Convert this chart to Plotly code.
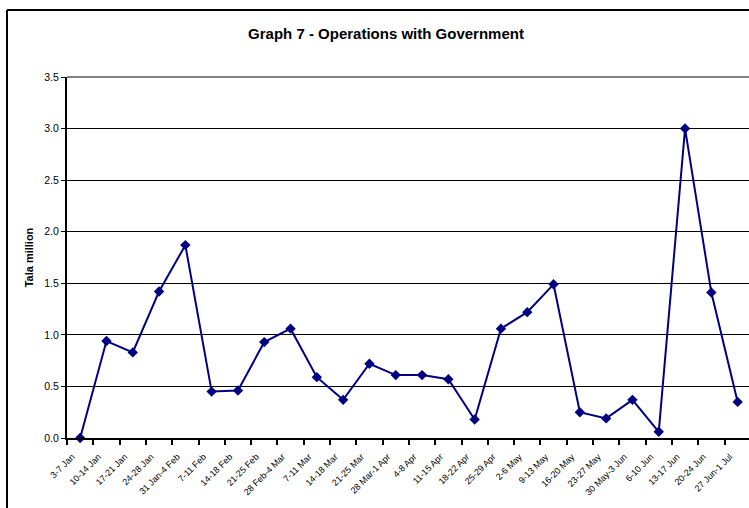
import plotly.graph_objects as go

# Weekly periods (2005, Jan-Jul)
weeks = [
    "3-7 Jan", "10-14 Jan", "17-21 Jan", "24-28 Jan", "31 Jan-4 Feb",
    "7-11 Feb", "14-18 Feb", "21-25 Feb", "28 Feb-4 Mar", "7-11 Mar",
    "14-18 Mar", "21-25 Mar", "28 Mar-1 Apr", "4-8 Apr", "11-15 Apr",
    "18-22 Apr", "25-29 Apr", "2-6 May", "9-13 May", "16-20 May",
    "23-27 May", "30 May-3 Jun", "6-10 Jun", "13-17 Jun", "20-24 Jun",
    "27 Jun-1 Jul",
]

# Net operations with government, Tala million
operations = [
    0.00, 0.94, 0.83, 1.42, 1.87,
    0.45, 0.46, 0.93, 1.06, 0.59,
    0.37, 0.72, 0.61, 0.61, 0.57,
    0.18, 1.06, 1.22, 1.49, 0.25,
    0.19, 0.37, 0.06, 3.00, 1.41,
    0.35,
]

y_ticks = [0.0, 0.5, 1.0, 1.5, 2.0, 2.5, 3.0, 3.5]

W, H = 749, 508
L, R, T, B = 67, 0, 77, 70
plot_w = W - L - R
plot_h = H - T - B
cat_px = 26.3  # width of one category slot

fig = go.Figure()
fig.add_trace(go.Scatter(
    x=list(range(len(weeks))),
    y=operations,
    mode="lines+markers",
    line=dict(color="#000080", width=2),
    marker=dict(symbol="diamond", size=8, color="#000080"),
    cliponaxis=False,
    hoverinfo="skip",
))

font = "Arial, 'Liberation Sans', sans-serif"

x_right = -0.5 + plot_w / cat_px

fig.update_layout(
    width=W, height=H,
    margin=dict(l=L, r=R, t=T, b=B),
    paper_bgcolor="white",
    plot_bgcolor="white",
    showlegend=False,
    font=dict(family=font, color="black"),
    title=dict(
        text="<b>Graph 7 - Operations with Government</b>",
        x=(386 - L) / plot_w, xref="paper", xanchor="center",
        y=1 - 34 / H, yref="container", yanchor="middle",
        font=dict(size=15, family=font, color="black"),
    ),
    xaxis=dict(
        range=[-0.5, x_right],
        tickmode="array",
        tickvals=list(range(len(weeks))),
        ticktext=weeks,
        tickangle=-45,
        tickfont=dict(size=9, family=font),
        ticklabelstandoff=8,
        ticklabelshift=-8,
        showgrid=False,
        showline=True, linecolor="black", linewidth=2,
        ticks="", zeroline=False,
        minor=dict(
            tickmode="array",
            tickvals=[i - 0.5 for i in range(len(weeks) + 1)],
            ticks="outside", ticklen=5, tickwidth=2, tickcolor="black",
            showgrid=False,
        ),
    ),
    yaxis=dict(
        range=[0, 3.5],
        tickmode="array",
        tickvals=y_ticks,
        ticktext=[f"{v:.1f}" for v in y_ticks],
        tickfont=dict(size=10.5, family=font),
        showgrid=True, gridcolor="black", gridwidth=1,
        showline=True, linecolor="black", linewidth=2,
        ticks="outside", ticklen=4, tickwidth=1, tickcolor="black",
        zeroline=False,
        title=dict(text="<b>Tala million</b>", font=dict(size=11, family=font), standoff=8),
    ),
)

# Gray top edge of the plot area
fig.add_shape(type="line", xref="paper", yref="paper",
              x0=0, x1=1, y0=1, y1=1,
              line=dict(color="#808080", width=2))

# Chart frame (left and top edges)
fx = (7 - L) / plot_w
fy = (H - B - 10) / plot_h
fig.add_shape(type="line", xref="paper", yref="paper",
              x0=fx, x1=1.05, y0=fy, y1=fy,
              line=dict(color="black", width=2))
fig.add_shape(type="line", xref="paper", yref="paper",
              x0=fx, x1=fx, y0=fy, y1=-0.3,
              line=dict(color="black", width=2))

fig.write_html("out.html")
